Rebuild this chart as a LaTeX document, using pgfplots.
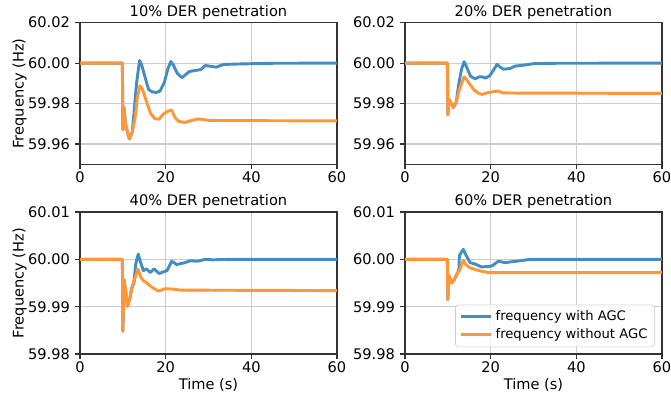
\documentclass[border=0pt]{standalone}
\usepackage{fontspec}
\setmainfont{DejaVu Sans}
\usepackage{pgfplots}
\pgfplotsset{compat=1.18}
\definecolor{cblue}{RGB}{67,141,196}
\definecolor{corange}{RGB}{255,150,55}
\definecolor{gridgray}{RGB}{205,205,205}
\pgfplotsset{
  every axis title shift=0pt,
  myaxis/.style={
    scale only axis, width=176pt, anchor=south west,
    xmin=0, xmax=60, xtick={0,20,40,60},
    grid=major, major grid style={color=gridgray, line width=0.8pt},
    axis line style={black!80, line width=0.8pt},
    tick align=outside, tick pos=left, major tick length=3.4pt,
    tick style={black!80, line width=0.8pt},
    /pgf/number format/assume math mode=true,
    xticklabel style={yshift=2pt},
    yticklabel style={/pgf/number format/fixed, /pgf/number format/precision=2, /pgf/number format/fixed zerofill},
    title style={at={(axis description cs:0.5,1.075)}, anchor=center},
    every axis plot/.append style={line width=2pt, line join=round},
    clip=true,
  },
  toprow/.style={height=97pt, ymin=59.95, ymax=60.02, ytick={59.96,59.98,60.00,60.02}},
  botrow/.style={height=97.3pt, ymin=59.98, ymax=60.01, ytick={59.98,59.99,60.00,60.01}},
  ylab/.style={ylabel={Frequency (Hz)}, ylabel style={at={(axis description cs:-0.235,0.5)}, anchor=center, rotate=0}},
  xlab/.style={xlabel={Time (s)}, xlabel style={at={(axis description cs:0.5,-0.218)}, anchor=center}},
}
\begin{document}
\begin{tikzpicture}
\useasboundingbox (0,0) rectangle (459.6pt,-272.6pt);
% 10%
\begin{axis}[myaxis, toprow, ylab, at={(54.8pt,-112.5pt)}, title={10\% DER penetration}]
\addplot[cblue] coordinates {(0,60.0) (9.9,60.0) (10.0,59.967) (10.3,59.978) (10.6,59.97) (11.5,59.9625) (12.2,59.966) (12.6,59.975) (13.2,59.99) (13.9,60.0013) (14.4,59.999) (15.2,59.993) (16.0,59.987) (16.8,59.9858) (17.8,59.9855) (18.7,59.9862) (19.7,59.9905) (20.5,59.997) (21.2,60.0008) (21.8,59.999) (22.7,59.995) (23.8,59.9928) (24.5,59.994) (25.5,59.9958) (26.8,59.9963) (28.2,59.9968) (29.3,59.9988) (30.2,59.9985) (31.8,59.998) (33.5,59.9993) (36,59.9995) (40,59.9997) (45,59.9999) (60,60.0)};
\addplot[corange] coordinates {(0,60.0) (9.9,60.0) (10.0,59.967) (10.3,59.978) (10.6,59.97) (11.5,59.9625) (12.2,59.966) (12.8,59.972) (13.4,59.983) (14.0,59.9888) (14.6,59.987) (15.5,59.981) (16.5,59.975) (17.5,59.9725) (18.5,59.9723) (19.3,59.9745) (20.3,59.976) (21.4,59.9768) (22.2,59.973) (23.0,59.9712) (24.5,59.9707) (25.5,59.9713) (27.3,59.9723) (28.5,59.9722) (30,59.9717) (33,59.9716) (60,59.9714)};
\end{axis}
% 20%
\begin{axis}[myaxis, toprow, at={(277.4pt,-112.5pt)}, title={20\% DER penetration}]
\addplot[cblue] coordinates {(0,60) (9.9,60) (10.0,59.9744) (10.3,59.982) (11.3,59.978) (12.0,59.981) (12.5,59.989) (13.2,59.997) (13.8,60.0007) (14.4,59.998) (15.3,59.9935) (16.4,59.9922) (17.3,59.9932) (18.0,59.9932) (18.8,59.9926) (19.8,59.9938) (20.5,59.996) (21.5,59.9994) (22.2,59.998) (23.0,59.997) (24.5,59.9973) (25.7,59.9985) (27,59.9988) (28.5,59.9992) (30,59.9997) (35,59.9999) (60,60)};
\addplot[corange] coordinates {(0,60) (9.9,60) (10.0,59.9744) (10.3,59.982) (11.3,59.978) (12.0,59.981) (12.7,59.987) (13.8,59.9932) (14.5,59.9915) (15.3,59.989) (16.2,59.9865) (17.3,59.985) (18,59.9845) (19.5,59.9855) (21.8,59.9862) (22.8,59.9853) (25,59.9852) (60,59.985)};
\end{axis}
% 40%
\begin{axis}[myaxis, botrow, ylab, xlab, at={(54.8pt,-242.5pt)}, title={40\% DER penetration}]
\addplot[cblue] coordinates {(0,60) (9.9,60) (10.0,59.9848) (10.3,59.9957) (10.7,59.993) (11.1,59.9901) (11.7,59.992) (12.1,59.994) (12.6,59.995) (13.0,59.999) (13.6,60.0011) (14.2,59.9992) (14.8,59.9976) (15.5,59.998) (16.4,59.9972) (17.3,59.998) (18.5,59.997) (19.3,59.9973) (20.3,59.9976) (21.4,59.9996) (22.6,59.9989) (24.5,59.9993) (25.7,59.9997) (27.5,59.9996) (29.2,60.0) (31,59.9999) (35,60.0) (60,60)};
\addplot[corange] coordinates {(0,60) (9.9,60) (10.0,59.9848) (10.3,59.9957) (10.7,59.993) (11.1,59.9901) (11.7,59.992) (12.1,59.994) (12.8,59.996) (13.6,59.9979) (14.2,59.9962) (14.8,59.9955) (15.6,59.995) (16.8,59.9941) (18.3,59.9933) (19.9,59.9938) (21.8,59.9937) (23.4,59.9935) (60,59.9934)};
\end{axis}
% 60%
\begin{axis}[myaxis, botrow, xlab, at={(277.4pt,-242.5pt)}, title={60\% DER penetration},
  legend style={at={(0.973,0.049)}, anchor=south east, draw=black!20, rounded corners=2pt, fill=white, fill opacity=0.8, text opacity=1, font=\fontsize{9}{11}\selectfont, cells={anchor=west}},
  legend image code/.code={\draw[#1, line width=2pt] (0pt,0pt) -- (20.5pt,0pt);}]
\addplot[cblue] coordinates {(0,60) (9.9,60) (10.0,59.9915) (10.3,59.9965) (10.9,59.995) (11.5,59.9957) (12.3,59.9972) (12.6,59.998) (12.7,60.0008) (13.6,60.0021) (14.3,60.0008) (15.2,59.9993) (16.4,59.999) (17.9,59.9984) (19.5,59.9985) (20.3,59.9986) (21.8,59.9996) (23.4,59.9993) (24.9,59.9995) (26.9,59.9997) (29.2,60.0) (60,60)};
\addlegendentry{frequency with AGC}
\addplot[corange] coordinates {(0,60) (9.9,60) (10.0,59.9915) (10.3,59.9965) (10.9,59.995) (11.5,59.9957) (12.3,59.9972) (12.8,59.9978) (13.6,59.9998) (14.3,59.9988) (15.2,59.9982) (16.5,59.9978) (17.9,59.9975) (19.5,59.9972) (60,59.9972)};
\addlegendentry{frequency without AGC}
\end{axis}
\end{tikzpicture}
\end{document}
